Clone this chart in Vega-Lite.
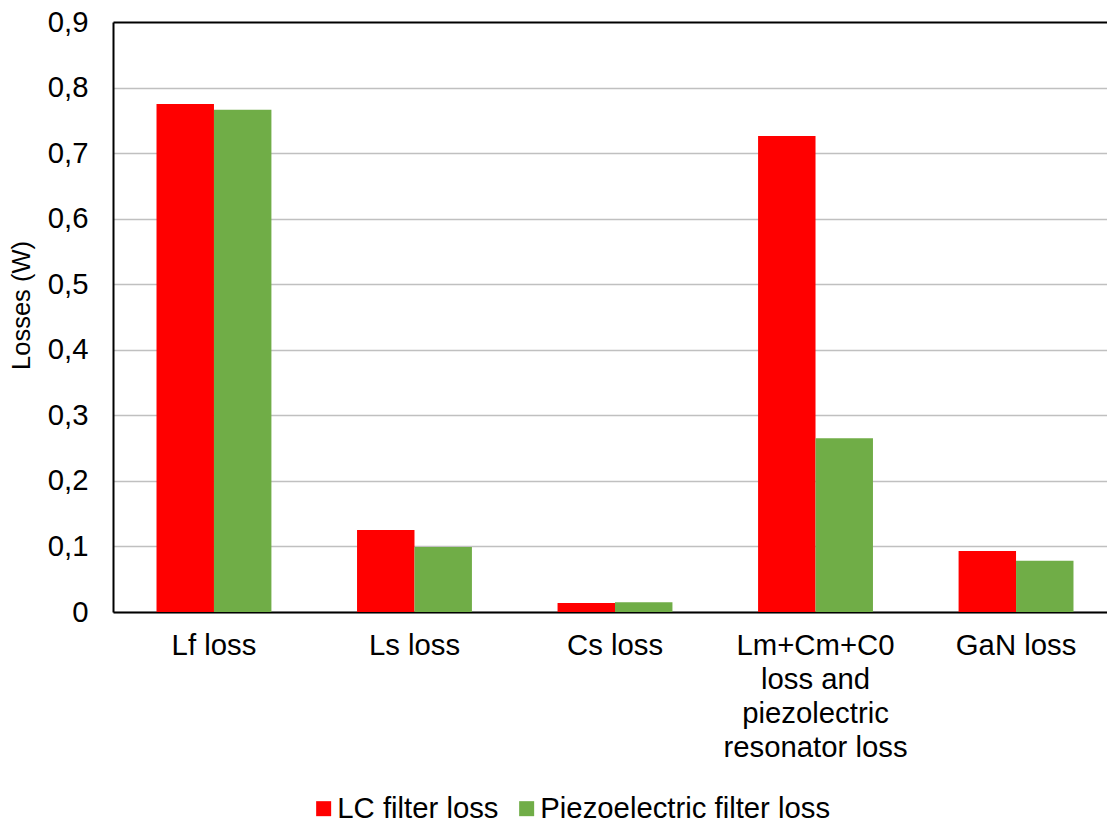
{
  "$schema": "https://vega.github.io/schema/vega-lite/v6.json",
  "width": 994,
  "height": 590,
  "autosize": {"type": "none"},
  "padding": {"left": 113, "top": 22, "right": 0, "bottom": 211},
  "background": "white",
  "config": {
    "font": "Liberation Sans",
    "view": {"stroke": null}
  },
  "data": {
    "values": [
      {"cat": "Lf loss", "series": "LC filter loss", "value": 0.775},
      {"cat": "Lf loss", "series": "Piezoelectric filter loss", "value": 0.766},
      {"cat": "Ls loss", "series": "LC filter loss", "value": 0.125},
      {"cat": "Ls loss", "series": "Piezoelectric filter loss", "value": 0.099},
      {"cat": "Cs loss", "series": "LC filter loss", "value": 0.0137},
      {"cat": "Cs loss", "series": "Piezoelectric filter loss", "value": 0.015},
      {"cat": "Lm+Cm+C0|loss and|piezolectric|resonator loss", "series": "LC filter loss", "value": 0.726},
      {"cat": "Lm+Cm+C0|loss and|piezolectric|resonator loss", "series": "Piezoelectric filter loss", "value": 0.265},
      {"cat": "GaN loss", "series": "LC filter loss", "value": 0.093},
      {"cat": "GaN loss", "series": "Piezoelectric filter loss", "value": 0.078}
    ]
  },
  "mark": {"type": "bar"},
  "encoding": {
    "x": {
      "field": "cat",
      "type": "nominal",
      "sort": null,
      "scale": {"paddingInner": 0.427, "paddingOuter": 0.217, "rangeMax": 1004},
      "axis": {
        "title": null,
        "labelAngle": 0,
        "labelFontSize": 29.3,
        "labelColor": "black",
        "labelPadding": 19,
        "labelLineHeight": 34,
        "labelExpr": "split(datum.label, '|')",
        "ticks": false,
        "domainColor": "black",
        "domainWidth": 2,
        "labelLimit": 300
      }
    },
    "xOffset": {"field": "series", "type": "nominal", "sort": null, "scale": {"paddingInner": 0, "paddingOuter": 0}},
    "y": {
      "field": "value",
      "type": "quantitative",
      "scale": {"domain": [0, 0.9], "nice": false},
      "axis": {
        "title": "Losses (W)",
        "titleFontSize": 25.5,
        "titleFontWeight": "normal",
        "titleColor": "black",
        "titlePadding": 13,
        "titleY": 283,
        "values": [0, 0.1, 0.2, 0.3, 0.4, 0.5, 0.6, 0.7, 0.8, 0.9],
        "labelExpr": "replace(format(datum.value, '.1~f'), '.', ',')",
        "labelFontSize": 29.3,
        "labelColor": "black",
        "labelPadding": 25,
        "ticks": false,
        "domainColor": "black",
        "domainWidth": 2,
        "gridColor": {"condition": {"test": "datum.value >= 0.9", "value": "black"}, "value": "#c0c0c0"},
        "gridWidth": {"condition": {"test": "datum.value >= 0.9", "value": 2}, "value": 1.5}
      }
    },
    "color": {
      "field": "series",
      "type": "nominal",
      "sort": null,
      "scale": {"domain": ["LC filter loss", "Piezoelectric filter loss"], "range": ["#ff0000", "#70ad47"]},
      "legend": {
        "title": null,
        "orient": "none",
        "direction": "horizontal",
        "legendX": 196,
        "legendY": 772,
        "symbolType": "square",
        "symbolSize": 225,
        "symbolStrokeWidth": 0,
        "labelFontSize": 29.3,
        "labelColor": "black",
        "labelLimit": 400,
        "columnPadding": 13,
        "symbolOffset": 0,
        "labelOffset": -1
      }
    }
  }
}
